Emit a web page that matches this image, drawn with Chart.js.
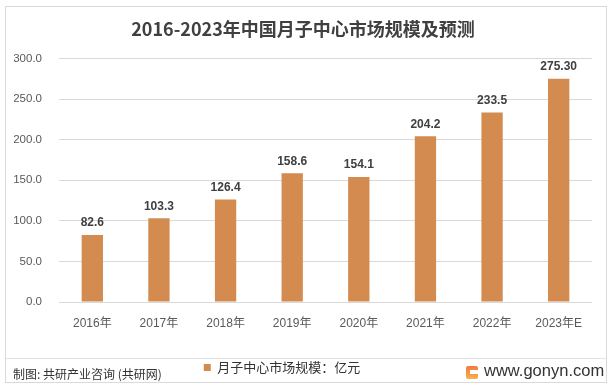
<!DOCTYPE html>
<html>
<head>
<meta charset="utf-8">
<script src="https://cdn.jsdelivr.net/npm/chart.js@4/dist/chart.umd.min.js"></script>
<style>
  body { margin: 0; background: #fff; }
  #wrap { position: relative; width: 616px; height: 392px; }
  #frame { position: absolute; left: 5px; top: 6px; width: 602px; height: 377px; border: 1px solid #d9d9d9; box-sizing: border-box; pointer-events: none; }
  #sep { position: absolute; left: 6px; top: 358px; width: 601px; height: 1px; background: #e3e3e3; }
  #source { position: absolute; left: 13px; top: 365px; font: 12px "Noto Sans CJK SC", sans-serif; color: #333; }
  #site { position: absolute; left: 484px; top: 361px; font: 16.5px "Liberation Sans", "Noto Sans", sans-serif; color: #333; }
  #logo { position: absolute; left: 466px; top: 366px; width: 12px; height: 13px; background: linear-gradient(180deg, #f4773f, #f7b24e); border-radius: 2px; }
  #logo::after { content: ""; position: absolute; left: 4px; top: 4px; width: 8px; height: 4px; background: #fff; }
  canvas { position: absolute; left: 0; top: 0; }
</style>
</head>
<body>
<div id="wrap">
  <canvas id="chart" width="616" height="392"></canvas>
  <div id="frame"></div>
  <div id="sep"></div>
  <div id="source">制图: 共研产业咨询 (共研网)</div>
  <div id="logo"></div>
  <div id="site">www.gonyn.com</div>
</div>
<script>
const years = ["2016年", "2017年", "2018年", "2019年", "2020年", "2021年", "2022年", "2023年E"];
const marketSize = [82.6, 103.3, 126.4, 158.6, 154.1, 204.2, 233.5, 275.3];
const valueLabels = ["82.6", "103.3", "126.4", "158.6", "154.1", "204.2", "233.5", "275.30"];
const seriesName = "月子中心市场规模：亿元";
const chartTitle = "2016-2023年中国月子中心市场规模及预测";

const numFont = "'Liberation Sans', 'Noto Sans CJK SC', sans-serif";

// draw the value above every bar
const barLabels = {
  id: "barLabels",
  afterDatasetsDraw(chart) {
    const ctx = chart.ctx;
    const meta = chart.getDatasetMeta(0);
    ctx.save();
    ctx.font = "bold 12px " + numFont;
    ctx.fillStyle = "#404040";
    ctx.textAlign = "center";
    ctx.textBaseline = "bottom";
    meta.data.forEach((bar, i) => {
      ctx.fillText(valueLabels[i], bar.x, bar.y - 6);
    });
    ctx.restore();
  },
};

// legend sits a bit left of the centre in the original
const shiftLegend = {
  id: "shiftLegend",
  afterLayout(chart) {
    const dx = -21;
    chart.legend.left += dx;
    chart.legend.right += dx;
    chart.legend.legendHitBoxes.forEach((b) => (b.left += dx));
  },
};

new Chart(document.getElementById("chart"), {
  type: "bar",
  data: {
    labels: years,
    datasets: [
      {
        label: seriesName,
        data: marketSize,
        backgroundColor: "#d38b4f",
        barPercentage: 0.32,
        categoryPercentage: 1,
      },
    ],
  },
  options: {
    responsive: false,
    animation: false,
    layout: { padding: { left: 14, right: 24, top: 0, bottom: 8 } },
    plugins: {
      title: {
        display: true,
        text: chartTitle,
        color: "#404040",
        font: { family: "'Noto Sans CJK SC', sans-serif", size: 18, weight: "bold" },
        padding: { top: 18, bottom: 19 },
      },
      legend: {
        position: "bottom",
        labels: {
          boxWidth: 7,
          boxHeight: 7,
          color: "#333",
          font: { family: "'Noto Sans CJK SC', sans-serif", size: 13 },
          padding: 10,
        },
      },
      tooltip: { enabled: false },
    },
    scales: {
      x: {
        grid: { display: false },
        border: { display: false },
        ticks: { color: "#595959", font: { family: numFont, size: 12 }, padding: 6 },
        afterFit(scale) { scale.height = 49; },
      },
      y: {
        min: 0,
        max: 300,
        grid: { color: "#d9d9d9", drawTicks: false },
        border: { display: false },
        ticks: {
          stepSize: 50,
          color: "#595959",
          font: { family: numFont, size: 11.5 },
          padding: 17,
          callback: (v) => v.toFixed(1),
        },
        afterFit(scale) { scale.width = 45; },
      },
    },
  },
  plugins: [barLabels, shiftLegend],
});
</script>
</body>
</html>
